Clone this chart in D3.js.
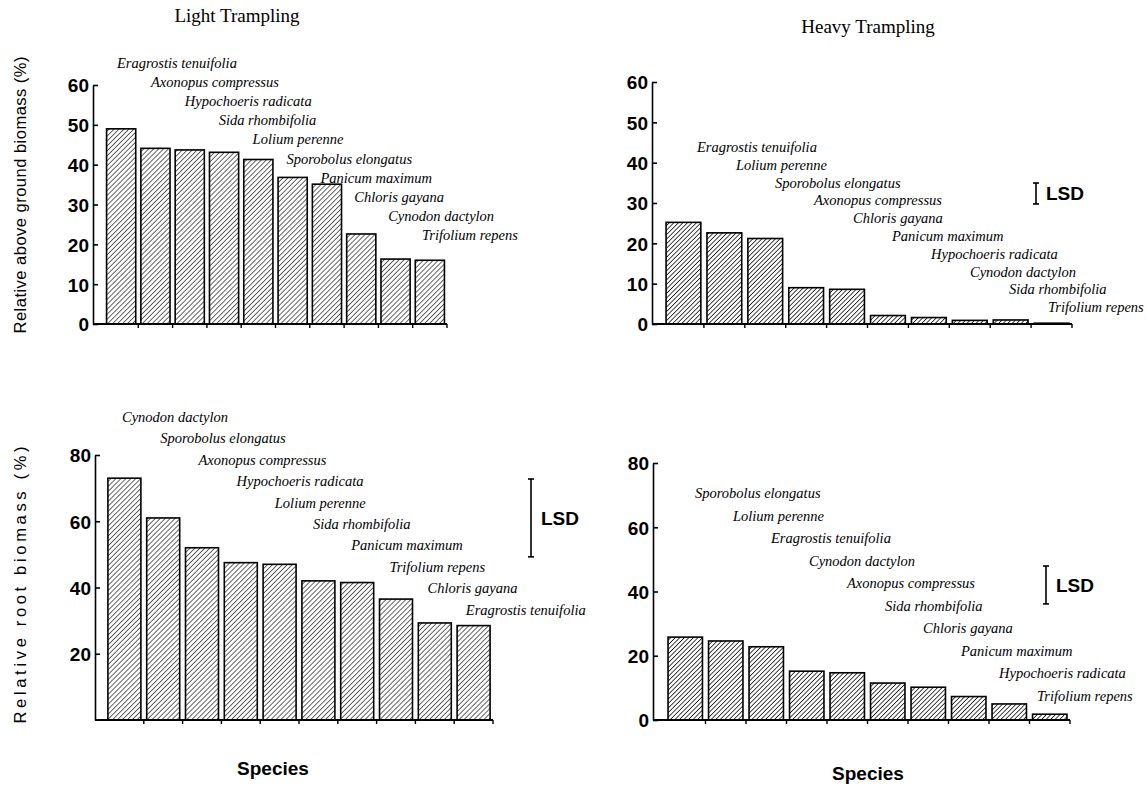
<!DOCTYPE html>
<html>
<head>
<meta charset="utf-8">
<script src="https://cdn.jsdelivr.net/npm/d3@7"></script>
<style>
  body { margin: 0; background: #fff; }
  svg { display: block; }
  .axis text, .ylab, .lsd, .xlab { font-family: "Liberation Sans", Arial, sans-serif; fill: #000; }
  .axis text { font-size: 19px; font-weight: bold; }
  .axis line, .axis path { stroke: #000; stroke-width: 1.6; }
  .sp { font-family: "Liberation Serif", "Times New Roman", serif; font-style: italic; font-size: 14.5px; }
  .title { font-family: "Liberation Serif", "Times New Roman", serif; font-size: 19px; }
  .lsd { font-size: 19px; font-weight: bold; }
  .xlab { font-size: 19px; font-weight: bold; }
  .ylab { font-size: 16.5px; }
</style>
</head>
<body>
<svg width="1147" height="785"></svg>
<script>
// light trampling, above ground biomass (%)
var lightAboveSpecies = ["Eragrostis tenuifolia", "Axonopus compressus", "Hypochoeris radicata", "Sida rhombifolia",
  "Lolium perenne", "Sporobolus elongatus", "Panicum maximum", "Chloris gayana", "Cynodon dactylon", "Trifolium repens"];
var lightAboveValues = [49.0, 44.1, 43.7, 43.1, 41.3, 36.8, 35.1, 22.6, 16.3, 16.0];

// heavy trampling, above ground biomass (%)
var heavyAboveSpecies = ["Eragrostis tenuifolia", "Lolium perenne", "Sporobolus elongatus", "Axonopus compressus",
  "Chloris gayana", "Panicum maximum", "Hypochoeris radicata", "Cynodon dactylon", "Sida rhombifolia", "Trifolium repens"];
var heavyAboveValues = [25.2, 22.6, 21.2, 9.0, 8.6, 2.1, 1.6, 0.9, 1.0, 0.2];

// light trampling, root biomass (%)
var lightRootSpecies = ["Cynodon dactylon", "Sporobolus elongatus", "Axonopus compressus", "Hypochoeris radicata",
  "Lolium perenne", "Sida rhombifolia", "Panicum maximum", "Trifolium repens", "Chloris gayana", "Eragrostis tenuifolia"];
var lightRootValues = [73, 61, 52, 47.5, 47, 42, 41.5, 36.5, 29.3, 28.5];

// heavy trampling, root biomass (%)
var heavyRootSpecies = ["Sporobolus elongatus", "Lolium perenne", "Eragrostis tenuifolia", "Cynodon dactylon",
  "Axonopus compressus", "Sida rhombifolia", "Chloris gayana", "Panicum maximum", "Hypochoeris radicata", "Trifolium repens"];
var heavyRootValues = [25.8, 24.6, 22.8, 15.2, 14.7, 11.5, 10.2, 7.3, 5.0, 1.8];

var aboveTicks = [0, 10, 20, 30, 40, 50, 60];
var rootTicksLight = [20, 40, 60, 80];
var rootTicksHeavy = [0, 20, 40, 60, 80];
var lsdValues = [5.2, 23.5, 11.8]; // heavy above, light root, heavy root

var svg = d3.select("svg");
var defs = svg.append("defs");

function hatch(id, gap, w) {
  var p = defs.append("pattern")
      .attr("id", id)
      .attr("patternUnits", "userSpaceOnUse")
      .attr("width", gap).attr("height", gap)
      .attr("patternTransform", "rotate(45)");
  p.append("rect").attr("width", gap).attr("height", gap).attr("fill", "#fff");
  p.append("line").attr("x1", 0).attr("y1", 0).attr("x2", 0).attr("y2", gap)
      .attr("stroke", "#000").attr("stroke-width", w);
}
hatch("hatchL", 3.5, 1.2);
hatch("hatchH", 3.2, 1.45);

var pad = 0.15;

function panel(o) {
  var x = d3.scaleBand().domain(o.species).range(o.xr).paddingInner(pad).paddingOuter(pad / 2);
  var y = d3.scaleLinear().domain([0, o.max]).range(o.yr);
  var g = svg.append("g");

  g.selectAll(".bar")
      .data(o.values)
      .enter().append("rect")
      .attr("class", "bar")
      .attr("x", function (d, i) { return x(o.species[i]); })
      .attr("y", function (d) { return y(d); })
      .attr("width", x.bandwidth())
      .attr("height", function (d) { return y(0) - y(d); })
      .attr("fill", "url(#" + o.hatch + ")")
      .attr("stroke", "#000")
      .attr("stroke-width", 1.6);

  // baseline + ticks between bars
  g.append("line")
      .attr("x1", o.ax).attr("x2", o.xr[1])
      .attr("y1", y(0)).attr("y2", y(0))
      .attr("stroke", "#000").attr("stroke-width", 2.2);
  g.selectAll(".xt")
      .data(o.species)
      .enter().append("line")
      .attr("class", "xt")
      .attr("x1", function (d) { return x(d) + x.step() * (1 - pad / 2); })
      .attr("x2", function (d) { return x(d) + x.step() * (1 - pad / 2); })
      .attr("y1", y(0)).attr("y2", y(0) + 4)
      .attr("stroke", "#000").attr("stroke-width", 1.4);

  g.append("g")
      .attr("class", "axis")
      .attr("transform", "translate(" + o.ax + ",0)")
      .call(d3.axisLeft(y).tickValues(o.ticks).tickSize(-5).tickSizeOuter(0).tickPadding(4))
      .call(function (a) { a.select(".domain").attr("stroke-width", 1.8); })
      .selectAll("text").attr("dy", "0.36em");

  g.selectAll(".sp")
      .data(o.species)
      .enter().append("text")
      .attr("class", "sp")
      .attr("x", function (d, i) { return o.lab[0] + i * o.lab[1]; })
      .attr("y", function (d, i) { return o.lab[2] + i * o.lab[3]; })
      .attr("dy", "0.35em")
      .text(function (d) { return d; });

  if (o.lsd != null) {
    var top = o.lsdAt[1], bot = o.lsdAt[1] + (y(0) - y(o.lsd));
    var lg = g.append("g").attr("stroke", "#000").attr("stroke-width", 1.6);
    lg.append("line").attr("x1", o.lsdAt[0]).attr("x2", o.lsdAt[0]).attr("y1", top).attr("y2", bot);
    lg.append("line").attr("x1", o.lsdAt[0] - 3).attr("x2", o.lsdAt[0] + 3).attr("y1", top).attr("y2", top);
    lg.append("line").attr("x1", o.lsdAt[0] - 3).attr("x2", o.lsdAt[0] + 3).attr("y1", bot).attr("y2", bot);
    g.append("text").attr("class", "lsd")
        .attr("x", o.lsdAt[0] + 10).attr("y", (top + bot) / 2).attr("dy", "0.36em")
        .text("LSD");
  }
}

panel({ species: lightAboveSpecies, values: lightAboveValues, max: 60, ticks: aboveTicks,
  xr: [104, 447], yr: [324, 85], ax: 93, hatch: "hatchL", lab: [117, 33.9, 63, 19.1] });
panel({ species: heavyAboveSpecies, values: heavyAboveValues, max: 60, ticks: aboveTicks,
  xr: [663, 1072], yr: [324, 82], ax: 652, hatch: "hatchH", lab: [697, 39, 147, 17.8],
  lsd: lsdValues[0], lsdAt: [1036, 183] });
panel({ species: lightRootSpecies, values: lightRootValues, max: 80, ticks: rootTicksLight,
  xr: [105, 493], yr: [720, 455], ax: 95, hatch: "hatchL", lab: [122, 38.2, 417, 21.4],
  lsd: lsdValues[1], lsdAt: [531, 479] });
panel({ species: heavyRootSpecies, values: heavyRootValues, max: 80, ticks: rootTicksHeavy,
  xr: [665, 1070], yr: [720, 463], ax: 653, hatch: "hatchH", lab: [695, 38, 493, 22.5],
  lsd: lsdValues[2], lsdAt: [1046, 566] });

svg.append("text").attr("class", "title").attr("x", 237).attr("y", 22)
    .attr("text-anchor", "middle").text("Light Trampling");
svg.append("text").attr("class", "title").attr("x", 868).attr("y", 33)
    .attr("text-anchor", "middle").text("Heavy Trampling");

svg.append("text").attr("class", "ylab")
    .attr("transform", "translate(26,195) rotate(-90)")
    .attr("text-anchor", "middle")
    .attr("textLength", 277).attr("lengthAdjust", "spacing")
    .text("Relative above ground biomass (%)");
svg.append("text").attr("class", "ylab")
    .attr("transform", "translate(26,585) rotate(-90)")
    .attr("text-anchor", "middle")
    .attr("textLength", 277).attr("lengthAdjust", "spacing")
    .text("Relative root biomass (%)");

svg.append("text").attr("class", "xlab").attr("x", 273).attr("y", 775)
    .attr("text-anchor", "middle").text("Species");
svg.append("text").attr("class", "xlab").attr("x", 868).attr("y", 780)
    .attr("text-anchor", "middle").text("Species");
</script>
</body>
</html>
